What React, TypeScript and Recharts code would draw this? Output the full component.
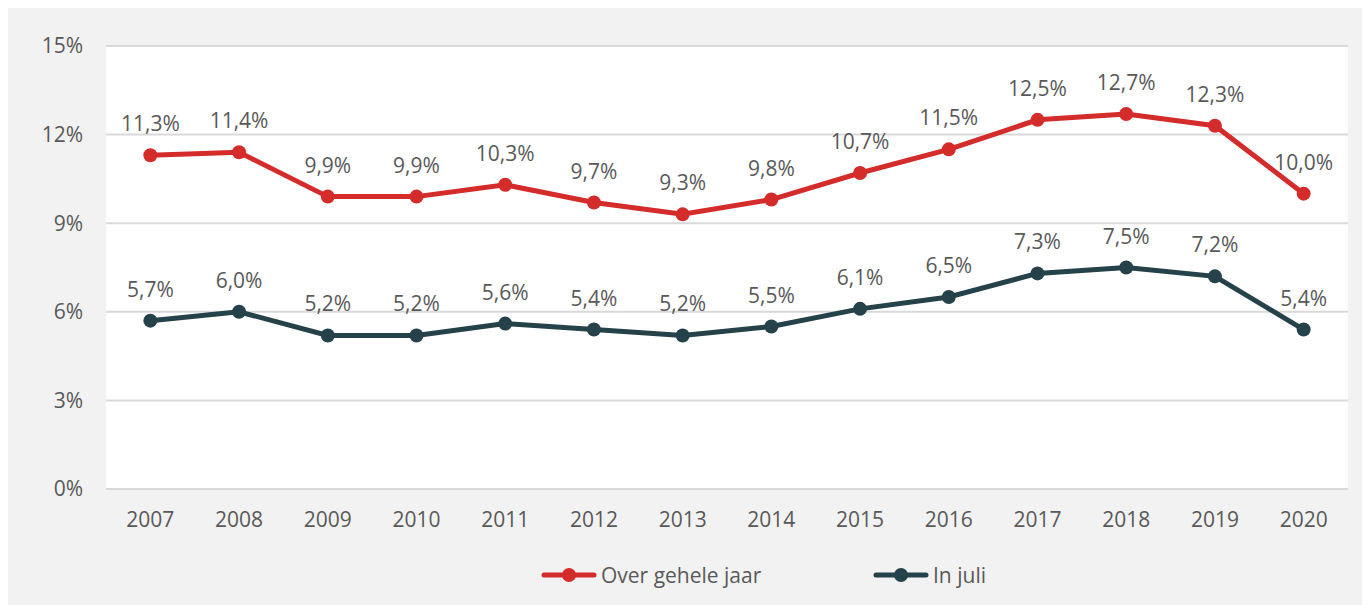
import React from "react";
import { LineChart, Line, XAxis, YAxis, CartesianGrid, LabelList, Legend } from "recharts";

const years = ["2007", "2008", "2009", "2010", "2011", "2012", "2013", "2014", "2015", "2016", "2017", "2018", "2019", "2020"];
const overGeheleJaar = [11.3, 11.4, 9.9, 9.9, 10.3, 9.7, 9.3, 9.8, 10.7, 11.5, 12.5, 12.7, 12.3, 10.0];
const inJuli = [5.7, 6.0, 5.2, 5.2, 5.6, 5.4, 5.2, 5.5, 6.1, 6.5, 7.3, 7.5, 7.2, 5.4];
const yTicks = [0, 3, 6, 9, 12, 15];
const seriesNames = ["Over gehele jaar", "In juli"];

const RED = "#d42b2b";
const DARK = "#25414a";
const TEXT = "#595959";
const FONT = "'Open Sans', 'Noto Sans', sans-serif";
const FS = 21;

const data = years.map((y, i) => ({ year: y, a: overGeheleJaar[i], b: inJuli[i] }));

const fmt = (v: number) => v.toFixed(1).replace(".", ",") + "%";

const LegendIcon = ({ color }: { color: string }) => (
  <svg width={56} height={16} style={{ display: "block" }}>
    <line x1={3} y1={8} x2={53} y2={8} stroke={color} strokeWidth={5} strokeLinecap="round" />
    <circle cx={28} cy={8} r={7} fill={color} />
  </svg>
);

const CustomLegend = () => (
  <div style={{ display: "flex", alignItems: "center", height: 30, paddingLeft: 533, fontFamily: FONT, fontSize: FS, color: TEXT }}>
    <div style={{ display: "flex", alignItems: "center", width: 332 }}>
      <LegendIcon color={RED} />
      <span style={{ marginLeft: 4 }}>{seriesNames[0]}</span>
    </div>
    <div style={{ display: "flex", alignItems: "center" }}>
      <LegendIcon color={DARK} />
      <span style={{ marginLeft: 4 }}>{seriesNames[1]}</span>
    </div>
  </div>
);

export default function App() {
  return (
    <div style={{ width: 1360, height: 597, background: "#f2f2f2" }}>
      <LineChart width={1360} height={597} data={data} margin={{ top: 38, right: 20, left: 0, bottom: 15 }}>
        <CartesianGrid vertical={false} stroke="#d9d9d9" strokeWidth={2} fill="#ffffff" />
        <XAxis
          dataKey="year"
          scale="band"
          axisLine={false}
          tickLine={false}
          tickSize={0}
          tickMargin={23}
          height={71}
          interval={0}
          tick={{ fill: TEXT, fontSize: FS, fontFamily: FONT }}
        />
        <YAxis
          domain={[0, 15]}
          ticks={yTicks}
          width={98}
          axisLine={false}
          tickLine={false}
          tickSize={0}
          tickMargin={23}
          tickFormatter={(v: number) => `${v}%`}
          tick={{ fill: TEXT, fontSize: FS, fontFamily: FONT }}
        />
        <Legend verticalAlign="bottom" content={<CustomLegend />} wrapperStyle={{ left: 0, width: 1360 }} />
        <Line
          dataKey="a"
          name={seriesNames[0]}
          stroke={RED}
          strokeWidth={5}
          dot={{ r: 7, fill: RED, stroke: RED, strokeWidth: 0 }}
          isAnimationActive={false}
        >
          <LabelList dataKey="a" position="top" offset={24} formatter={fmt} fill={TEXT} fontSize={FS} fontFamily={FONT} />
        </Line>
        <Line
          dataKey="b"
          name={seriesNames[1]}
          stroke={DARK}
          strokeWidth={5}
          dot={{ r: 7, fill: DARK, stroke: DARK, strokeWidth: 0 }}
          isAnimationActive={false}
        >
          <LabelList dataKey="b" position="top" offset={24} formatter={fmt} fill={TEXT} fontSize={FS} fontFamily={FONT} />
        </Line>
      </LineChart>
    </div>
  );
}
